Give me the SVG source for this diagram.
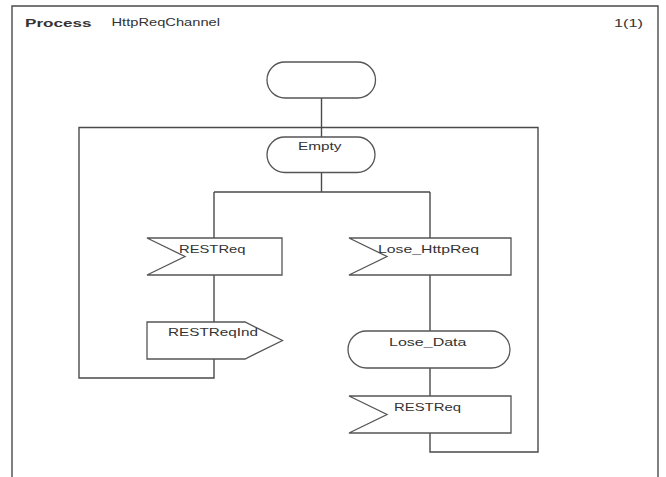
<svg xmlns="http://www.w3.org/2000/svg" width="666" height="477" viewBox="0 0 666 477">
<style>
.ln{fill:none;stroke:#4a4a4a;stroke-width:1.4}
.sh{fill:#fff;stroke:#555;stroke-width:1.3}
.tx{font-family:"Liberation Sans",Arial,sans-serif;font-size:11px;fill:#333}
.b{font-weight:bold}
</style>
<rect width="666" height="477" fill="#fff"/>
<g id="frame">
<path class="ln" d="M12,477 V6 H658 V477"/>
<text class="tx b" x="25" y="26.5" font-size="10" textLength="66.5" lengthAdjust="spacingAndGlyphs">Process</text>
<text class="tx" x="111.5" y="25.5" textLength="108.5" lengthAdjust="spacingAndGlyphs">HttpReqChannel</text>
<text class="tx" x="614" y="27" textLength="29" lengthAdjust="spacingAndGlyphs">1(1)</text>
</g>
<g id="connectors">
<path class="ln" d="M321.5,98 V137"/>
<path class="ln" d="M321.5,172.5 V192 M214,192 H430 M214,192 V238 M430,192 V238"/>
<path class="ln" d="M214,275 V322"/>
<path class="ln" d="M214,359 V378 H79 V127.5 H538 V452 H430 V433"/>
<path class="ln" d="M430,275 V331 M430,368 V396"/>
</g>
<g id="start">
<rect class="sh" x="267" y="62" width="108.5" height="36" rx="18" ry="18"/>
</g>
<g id="empty">
<rect class="sh" x="267" y="137" width="108" height="35.5" rx="17.75" ry="17.75"/>
<text class="tx" x="298" y="150" textLength="43.5" lengthAdjust="spacingAndGlyphs">Empty</text>
</g>
<g id="restreq1">
<polygon class="sh" points="147,238 282,238 282,275 147,275 185,256.5"/>
<text class="tx" x="179" y="253" textLength="66.5" lengthAdjust="spacingAndGlyphs">RESTReq</text>
</g>
<g id="losehttpreq">
<polygon class="sh" points="349,238 511,238 511,275 349,275 387,256.5"/>
<text class="tx" x="378" y="253.3" textLength="101" lengthAdjust="spacingAndGlyphs">Lose_HttpReq</text>
</g>
<g id="restreqind">
<polygon class="sh" points="147,322 245,322 282.5,340.5 245,359 147,359"/>
<text class="tx" x="168" y="335.5" textLength="90" lengthAdjust="spacingAndGlyphs">RESTReqInd</text>
</g>
<g id="losedata">
<rect class="sh" x="348" y="331" width="162" height="37" rx="18.5" ry="18.5"/>
<text class="tx" x="389" y="346" textLength="77.5" lengthAdjust="spacingAndGlyphs">Lose_Data</text>
</g>
<g id="restreq2">
<polygon class="sh" points="349,396 511,396 511,433 349,433 387,414.5"/>
<text class="tx" x="394" y="410.7" textLength="67" lengthAdjust="spacingAndGlyphs">RESTReq</text>
</g>
</svg>
